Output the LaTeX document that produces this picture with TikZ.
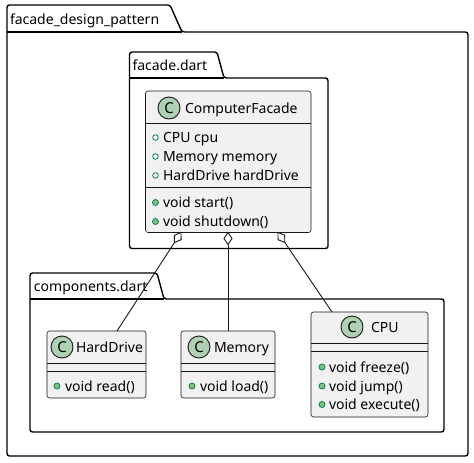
\documentclass[tikz,border=0pt]{standalone}
\usepackage{fontspec}
\setmainfont{Noto Sans}
\usetikzlibrary{calc}
\definecolor{cfill}{HTML}{F1F1F1}
\definecolor{cline}{HTML}{181818}
\definecolor{cicon}{HTML}{ADD1B2}
\definecolor{vis}{HTML}{038048}
\definecolor{visfill}{HTML}{84BE84}
\begin{document}
\begin{tikzpicture}[x=1pt,y=-1pt,
  pkgline/.style={draw=black,line width=1.4pt,fill=white,rounded corners=2.5pt},
  pkglabel/.style={inner sep=0pt,outer sep=0pt,font=\fontsize{14}{16}\selectfont\bfseries},
  classbox/.style={draw=cline,line width=0.6pt,fill=cfill,rounded corners=2.5pt,inner sep=0pt,outer sep=0pt},
  sepline/.style={draw=cline,line width=0.6pt},
  txt/.style={inner sep=0pt,outer sep=0pt,font=\fontsize{14}{16}\selectfont},
  ctag/.style={circle,draw=cline,line width=0.9pt,fill=cicon,minimum size=22pt,inner sep=0pt,font=\fontsize{15}{16}\selectfont\bfseries},
  fieldicon/.style={circle,draw=vis,line width=0.8pt,fill=white,minimum size=5.6pt,inner sep=0pt},
  methicon/.style={circle,draw=vis,line width=0.8pt,fill=visfill,minimum size=6pt,inner sep=0pt},
  conn/.style={draw=cline,line width=0.9pt},
  agg/.style={draw=cline,line width=0.9pt,fill=white,line join=miter}
]
\useasboundingbox[fill=white] (0,0) rectangle (474,463);

% outer package
\draw[pkgline] (7,200) -- (7,5) -- (170,5) -- (182,32) -- (468,32) -- (468,456) -- (7,456) -- cycle;
\draw[line width=1.4pt] (7,32) -- (182,32);
\node[pkglabel,anchor=base west] (pouter) at (10,24.5) {facade\_design\_pattern};

% facade.dart package
\draw[pkgline] (129.5,150) -- (129.5,52) -- (217,52) -- (224,78) -- (328,78) -- (328,248.5) -- (129.5,248.5) -- cycle;
\draw[line width=1.4pt] (129.5,78) -- (224,78);
\node[pkglabel,anchor=base west] (pfacade) at (132.5,70.5) {facade.dart};

% components.dart package
\draw[pkgline] (30,350) -- (30,273) -- (157,273) -- (164,299) -- (444,299) -- (444,432) -- (30,432) -- cycle;
\draw[line width=1.4pt] (30,299) -- (164,299);
\node[pkglabel,anchor=base west] (pcomp) at (34,291.5) {components.dart};

% ComputerFacade
\node[classbox,anchor=north west,minimum width=165.5pt,minimum height=141.5pt] (cf) at (145.5,91) {};
\draw[sepline] (145.5,123) -- (311,123);
\draw[sepline] (145.5,187) -- (311,187);
\node[ctag] (cfc) at (169,108) {C};
\node[txt,anchor=base west] (cfname) at (185,113) {ComputerFacade};
\node[fieldicon] (cfi1) at (155.5,137.5) {};
\node[fieldicon] (cfi2) at (155.5,156.5) {};
\node[fieldicon] (cfi3) at (155.5,175.5) {};
\node[txt,anchor=base west] (cfa1) at (163,142) {CPU cpu};
\node[txt,anchor=base west] (cfa2) at (163,161) {Memory memory};
\node[txt,anchor=base west] (cfa3) at (163,180) {HardDrive hardDrive};
\node[methicon] (cfm1i) at (155.5,202.5) {};
\node[methicon] (cfm2i) at (155.5,221.5) {};
\node[txt,anchor=base west] (cfm1) at (163,207.5) {void start()};
\node[txt,anchor=base west] (cfm2) at (163,226.5) {void shutdown()};

% HardDrive
\node[classbox,anchor=north west,minimum width=99pt,minimum height=67pt] (hd) at (47,331) {};
\draw[sepline] (47,363) -- (146,363);
\draw[sepline] (47,371) -- (146,371);
\node[ctag] (hdc) at (62,347) {C};
\node[txt,anchor=base west] (hdname) at (76,352) {HardDrive};
\node[methicon] (hdm1i) at (57,386) {};
\node[txt,anchor=base west] (hdm1) at (65,391) {void read()};

% Memory
\node[classbox,anchor=north west,minimum width=94pt,minimum height=67pt] (mem) at (181,331) {};
\draw[sepline] (181,363) -- (275,363);
\draw[sepline] (181,371) -- (275,371);
\node[ctag] (memc) at (199,347) {C};
\node[txt,anchor=base west] (memname) at (214,352) {Memory};
\node[methicon] (memm1i) at (192,386) {};
\node[txt,anchor=base west] (memm1) at (200,391) {void load()};

% CPU
\node[classbox,anchor=north west,minimum width=117pt,minimum height=105pt] (cpu) at (311,312) {};
\draw[sepline] (311,343) -- (428,343);
\draw[sepline] (311,351.5) -- (428,351.5);
\node[ctag] (cpuc) at (352,327) {C};
\node[txt,anchor=base west] (cpuname) at (371,332) {CPU};
\node[methicon] (cpum1i) at (322,367) {};
\node[methicon] (cpum2i) at (322,386) {};
\node[methicon] (cpum3i) at (322,404.5) {};
\node[txt,anchor=base west] (cpum1) at (329,372) {void freeze()};
\node[txt,anchor=base west] (cpum2) at (329,391) {void jump()};
\node[txt,anchor=base west] (cpum3) at (329,409.5) {void execute()};

% aggregation connectors
\coordinate (a1) at (181,232.5); \coordinate (b1) at (117,331);
\coordinate (a2) at (228,232.5); \coordinate (b2) at (228,331);
\coordinate (a3) at (278,232.5); \coordinate (b3) at (332,312);
\foreach \i in {1,2,3}{
  \coordinate (m\i) at ($(a\i)!6pt!(b\i)$);
  \coordinate (t\i) at ($(a\i)!12pt!(b\i)$);
  \coordinate (l\i) at ($(m\i)!4pt!90:(b\i)$);
  \coordinate (r\i) at ($(m\i)!4pt!-90:(b\i)$);
  \draw[conn] (t\i) -- (b\i);
  \draw[agg] (a\i) -- (l\i) -- (t\i) -- (r\i) -- cycle;
}
\end{tikzpicture}
\end{document}
